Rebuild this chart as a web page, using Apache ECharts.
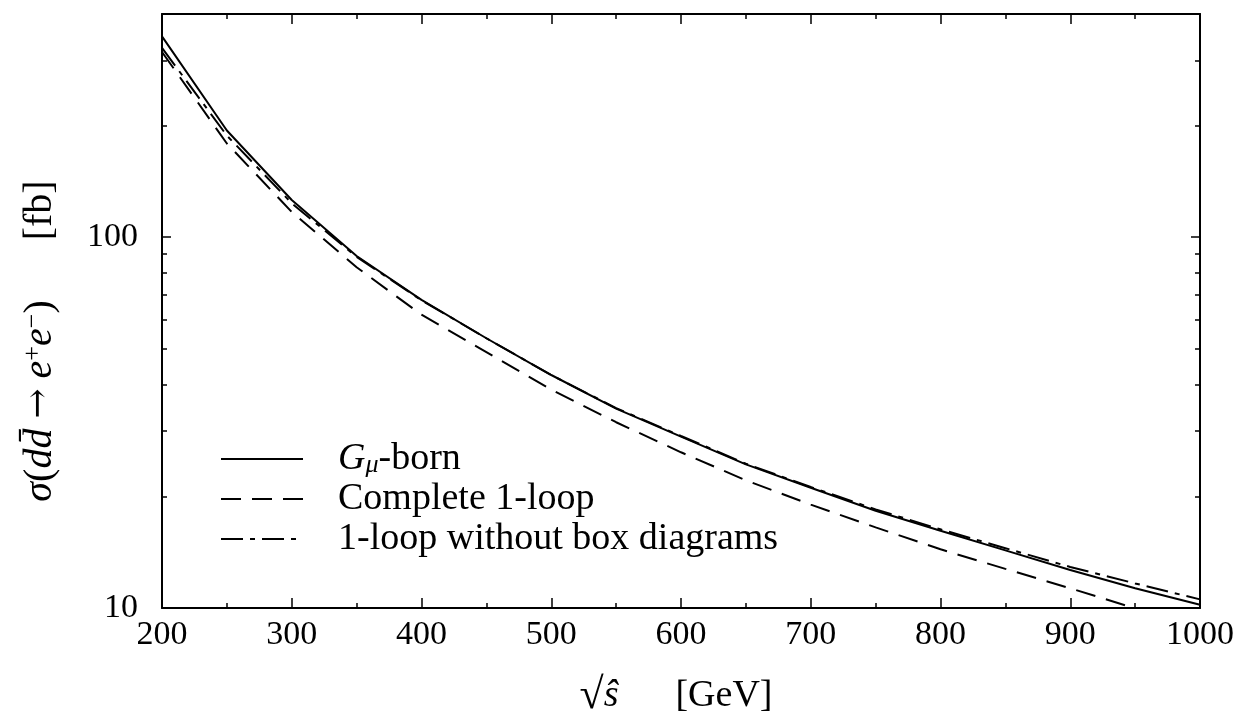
<!DOCTYPE html>
<html>
<head>
<meta charset="utf-8">
<script src="https://cdn.jsdelivr.net/npm/echarts@6/dist/echarts.min.js"></script>
<style>
html, body { margin: 0; padding: 0; background: #fff; }
#main { width: 1239px; height: 713px; }
</style>
</head>
<body>
<div id="main"></div>
<script>
// sqrt(s) [GeV]
var energies = [200, 250, 300, 350, 400, 450, 500, 550, 600, 650, 700, 750, 800, 850, 900, 950, 1000];
// sigma [fb]
var gmuBorn       = [348, 194, 126, 89, 67.8, 53.4, 42.5, 34.5, 29.0, 24.4, 21.1, 18.3, 16.15, 14.3, 12.66, 11.3, 10.2];
var complete1Loop = [316, 179, 117, 83, 61.8, 49.0, 38.8, 31.7, 26.3, 22.1, 19.0, 16.5, 14.4, 12.75, 11.3, 9.98, 8.85];
var noBoxLoop     = [324, 188, 123.5, 88.5, 67.6, 53.4, 42.5, 34.6, 29.1, 24.5, 21.2, 18.45, 16.3, 14.5, 12.9, 11.65, 10.55];
var seriesNames = ['Gμ-born', 'Complete 1-loop', '1-loop without box diagrams'];
var yMinorTicks = [20, 30, 40, 50, 60, 70, 80, 90, 200, 300];

var font = 'Liberation Serif';

function pairs(ys) {
    return energies.map(function (x, i) {
        return [x, ys[i]];
    });
}

var myChart = echarts.init(document.getElementById('main'));

function xAxisOf(pos, withLabel) {
    return {
        type: 'value',
        position: pos,
        min: 200,
        max: 1000,
        interval: 100,
        axisLine: {show: true, onZero: false, lineStyle: {color: '#000', width: 2}},
        axisTick: {show: true, inside: true, length: 10, lineStyle: {color: '#000', width: 1.5}},
        minorTick: {show: true, splitNumber: 2, length: 5, lineStyle: {color: '#000', width: 1.5}},
        splitLine: {show: false},
        axisLabel: {
            show: withLabel, margin: 10, fontFamily: font, fontSize: 34, color: '#000',
            formatter: function (v) { return String(v); }
        }
    };
}

function yAxisOf(pos, major) {
    return {
        type: 'log',
        logBase: 10,
        position: pos,
        min: 10,
        max: 400,
        axisLine: {show: major, onZero: false, lineStyle: {color: '#000', width: 2}},
        axisTick: major
            ? {show: true, inside: true, length: 9, lineStyle: {color: '#000', width: 1.5}}
            : {show: true, inside: true, length: 5, customValues: yMinorTicks, lineStyle: {color: '#000', width: 1.5}},
        splitLine: {show: false},
        axisLabel: {show: false}
    };
}

var yMain = yAxisOf('left', true);
yMain.axisLabel = {show: true, margin: 24, fontFamily: font, fontSize: 34, color: '#000', showMaxLabel: false};
yMain.name = '{i|σ}({i|d}{i|d̄} {a|→} {i|e}{sup|+}{i|e}{sup|−})      [fb]';
yMain.nameLocation = 'middle';
yMain.nameRotate = 90;
yMain.nameGap = 102;
yMain.nameTextStyle = {
    fontFamily: font, fontSize: 40, color: '#000', padding: [0, 60, 0, 0],
    rich: {
        i: {fontFamily: font, fontStyle: 'italic', fontSize: 40, color: '#000'},
        a: {fontFamily: 'DejaVu Serif', fontSize: 36, color: '#000'},
        sup: {fontFamily: font, fontSize: 26, color: '#000', verticalAlign: 'top'}
    }
};

var xMain = xAxisOf('bottom', true);
xMain.name = '{r|√}{i|ŝ}      [GeV]';
xMain.nameLocation = 'middle';
xMain.nameGap = 66;
xMain.nameTextStyle = {
    fontFamily: font, fontSize: 38, color: '#000', padding: [0, 10, 0, 0],
    rich: {
        r: {fontFamily: font, fontSize: 44, color: '#000'},
        i: {fontFamily: font, fontStyle: 'italic', fontSize: 38, color: '#000'}
    }
};

var option = {
    backgroundColor: '#fff',
    animation: false,
    grid: {left: 162, right: 39, top: 14, bottom: 105, outerBoundsMode: 'none', containLabel: false},
    legend: {
        orient: 'vertical',
        left: 215,
        top: 435,
        itemWidth: 82,
        itemHeight: 14,
        itemGap: 2,
        data: seriesNames,
        itemStyle: {opacity: 0},
        formatter: function (name) {
            if (name === seriesNames[0]) {
                return '{i|G}{sub|μ}-born';
            }
            return name;
        },
        textStyle: {
            fontFamily: font, fontSize: 38, color: '#000', padding: [0, 0, 0, 30],
            rich: {
                i: {fontFamily: font, fontStyle: 'italic', fontSize: 38, color: '#000'},
                sub: {fontFamily: font, fontStyle: 'italic', fontSize: 26, color: '#000', verticalAlign: 'bottom'}
            }
        }
    },
    xAxis: [xMain, xAxisOf('top', false)],
    yAxis: [yMain, yAxisOf('right', true), yAxisOf('left', false), yAxisOf('right', false)],
    series: [
        {
            name: seriesNames[0],
            type: 'line',
            data: pairs(gmuBorn),
            symbol: 'none',
            itemStyle: {color: '#000'},
            lineStyle: {color: '#000', width: 2, type: 'solid'}
        },
        {
            name: seriesNames[1],
            type: 'line',
            data: pairs(complete1Loop),
            symbol: 'none',
            itemStyle: {color: '#000'},
            lineStyle: {color: '#000', width: 2, type: [20, 11]}
        },
        {
            name: seriesNames[2],
            type: 'line',
            data: pairs(noBoxLoop),
            symbol: 'none',
            itemStyle: {color: '#000'},
            lineStyle: {color: '#000', width: 2, type: [22, 7, 5, 7]}
        }
    ]
};
myChart.setOption(option);
</script>
</body>
</html>
